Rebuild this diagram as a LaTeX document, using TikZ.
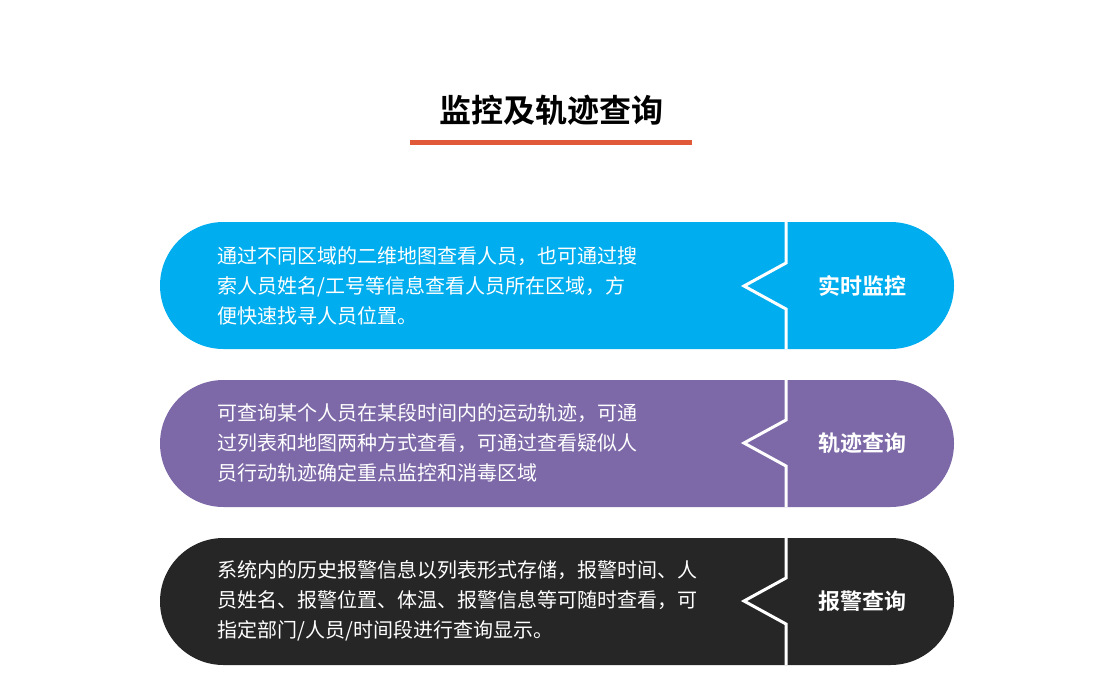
\documentclass[tikz,border=0pt]{standalone}
\usepackage{fontspec}
\newfontfamily\cjk{Noto Sans CJK SC}
\newfontfamily\cjkb{Noto Sans CJK SC Bold}
\definecolor{cblue}{HTML}{00AEEF}
\definecolor{cpurple}{HTML}{7D69A8}
\definecolor{cblack}{HTML}{262626}
\definecolor{cred}{HTML}{E05A3A}
\begin{document}
\begin{tikzpicture}[x=1pt,y=-1pt,
  body/.style={text=white,anchor=west,align=left,font=\cjk\fontsize{20}{30}\selectfont},
  lab/.style={text=white,font=\cjkb\fontsize{22}{26}\selectfont}]
\useasboundingbox (0,0) rectangle (1100,674);
\node[font=\cjkb\fontsize{32}{36}\selectfont] (title) at (551,110) {监控及轨迹查询};
\fill[cred] (410,140) rectangle (692,145);
\foreach \t/\c/\col/\lbl/\txt in {
 222/286/cblue/实时监控/{通过不同区域的二维地图查看人员，也可通过搜\\索人员姓名/工号等信息查看人员所在区域，方\\便快速找寻人员位置。},
 380/443/cpurple/轨迹查询/{可查询某个人员在某段时间内的运动轨迹，可通\\过列表和地图两种方式查看，可通过查看疑似人\\员行动轨迹确定重点监控和消毒区域},
 538/601/cblack/报警查询/{系统内的历史报警信息以列表形式存储，报警时间、人\\员姓名、报警位置、体温、报警信息等可随时查看，可\\指定部门/人员/时间段进行查询显示。}}{
  \fill[\col,rounded corners=63.5] (160,\t) rectangle (954,\t+127);
  \draw[white,line width=3] (786,\t) -- (786,\c-23) -- (744,\c) -- (786,\c+23) -- (786,\t+127);
  \node[lab] at (862,\c) {\lbl};
  \node[body] at (214,\c) {\txt};
}
\end{tikzpicture}
\end{document}
